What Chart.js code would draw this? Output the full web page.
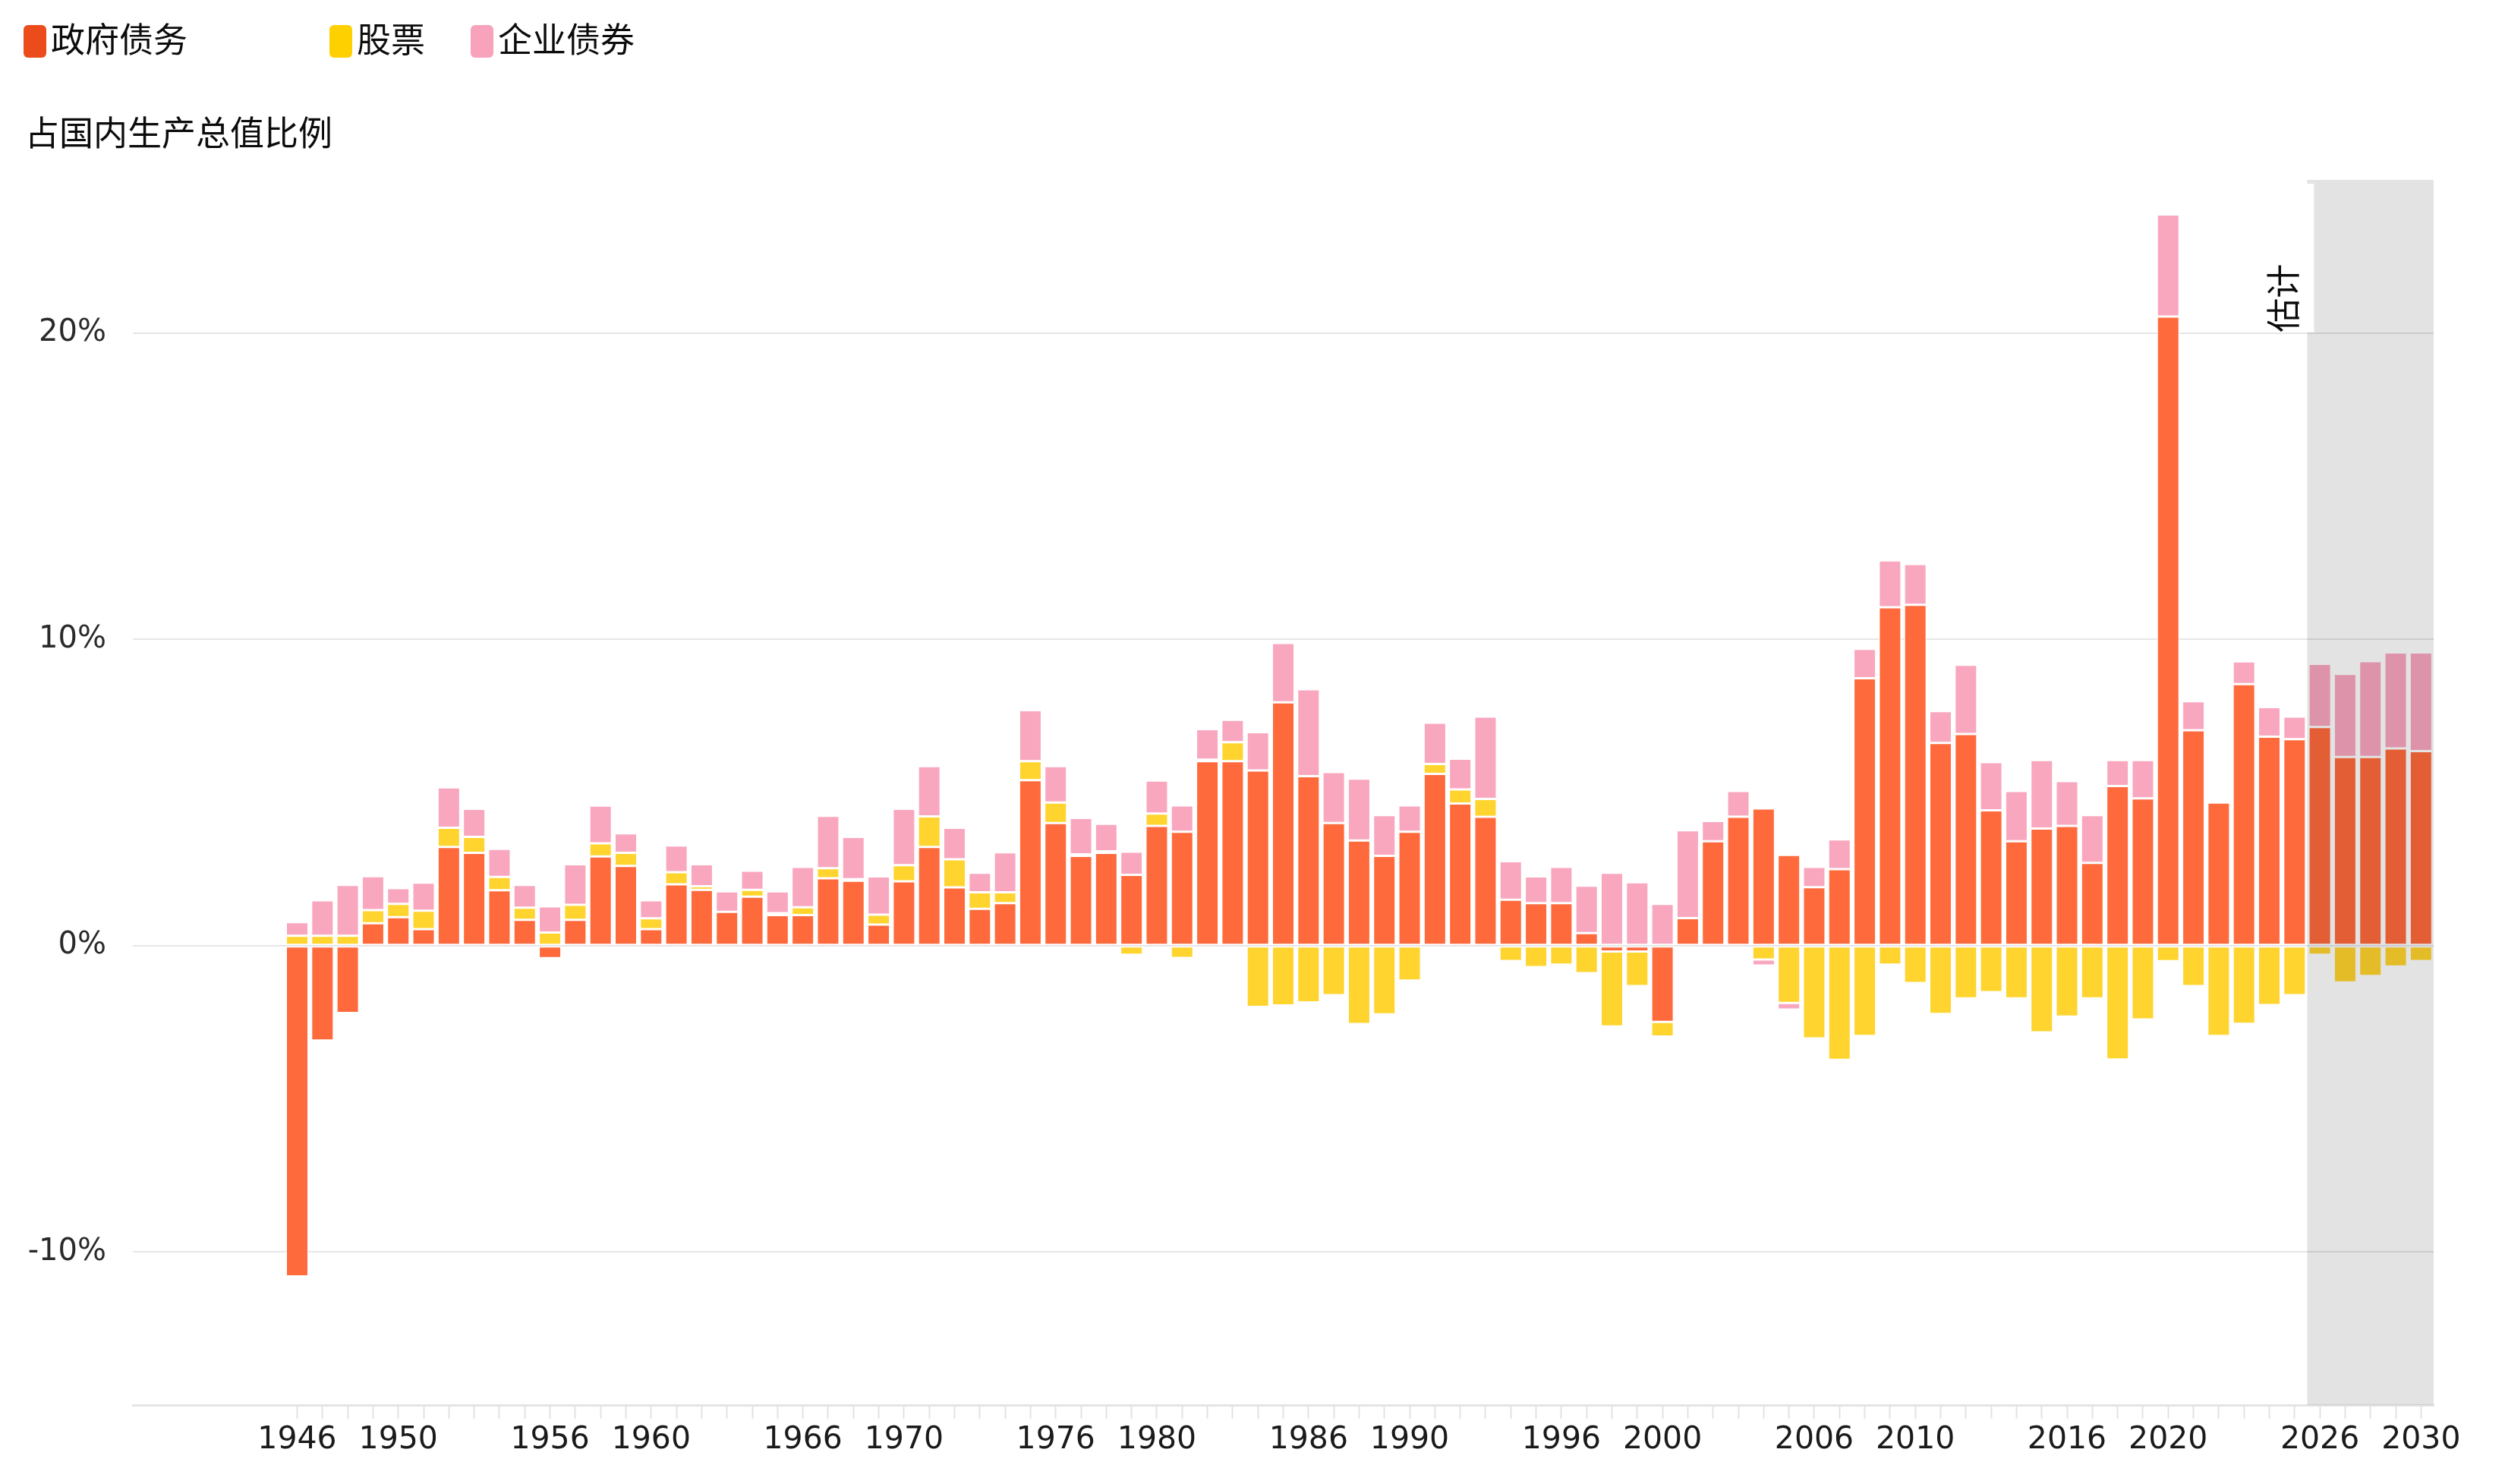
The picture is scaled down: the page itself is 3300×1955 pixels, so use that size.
<!DOCTYPE html>
<html lang="zh">
<head>
    <meta charset="UTF-8">
    <title>占国内生产总值比例</title>
    <script src="https://cdn.jsdelivr.net/npm/chart.js"></script>
    <style>
        body { margin: 0; background: #fff; }
        #wrap { position: relative; width: 3300px; height: 1955px; }
        #chart { position: absolute; left: 0; top: 0; }
        .cjk { font-family: "Noto Sans CJK SC", sans-serif; color: #0c0c0c; font-size: 45px; line-height: 45px; }
        .item { position: absolute; top: 27px; white-space: nowrap; }
        .swatch { position: absolute; top: 6px; width: 30px; height: 43px; border-radius: 6px; }
        .item span.txt { position: absolute; left: 36px; top: 0; }
        #sub { position: absolute; left: 33px; top: 150px; }
    </style>
</head>
<body>
<div id="wrap">
    <canvas id="chart"></canvas>
    <div id="legend" class="cjk"></div>
    <div id="sub" class="cjk">占国内生产总值比例</div>
</div>
<script>
// years shown on the axis; 1940-1945 are empty slots before the data starts
const leadYears = ['1940', '1941', '1942', '1943', '1944', '1945'];
const years = [
    '1946', '1947', '1948', '1949', '1950', '1951', '1952', '1953', '1954', '1955',
    '1956', '1957', '1958', '1959', '1960', '1961', '1962', '1963', '1964', '1965',
    '1966', '1967', '1968', '1969', '1970', '1971', '1972', '1973', '1974', '1975',
    '1976', '1977', '1978', '1979', '1980', '1981', '1982', '1983', '1984', '1985',
    '1986', '1987', '1988', '1989', '1990', '1991', '1992', '1993', '1994', '1995',
    '1996', '1997', '1998', '1999', '2000', '2001', '2002', '2003', '2004', '2005',
    '2006', '2007', '2008', '2009', '2010', '2011', '2012', '2013', '2014', '2015',
    '2016', '2017', '2018', '2019', '2020', '2021', '2022', '2023', '2024', '2025',
    '2026', '2027', '2028', '2029', '2030'
];
const tickYears = ['1946', '1950', '1956', '1960', '1966', '1970', '1976', '1980', '1986', '1990',
    '1996', '2000', '2006', '2010', '2016', '2020', '2026', '2030'];
const firstEstimate = '2026';

// % of GDP
const govDebt = [
    -10.8, -3.1, -2.2, 0.73, 0.93, 0.54, 3.22, 3.03, 1.81, 0.84,
    -0.41, 0.84, 2.91, 2.6, 0.54, 2.0, 1.82, 1.1, 1.6, 1.0,
    1.0, 2.2, 2.12, 0.69, 2.1, 3.22, 1.9, 1.2, 1.39, 5.4,
    4.0, 2.93, 3.03, 2.31, 3.91, 3.72, 6.02, 6.02, 5.72, 7.94,
    5.53, 4.0, 3.43, 2.93, 3.72, 5.61, 4.64, 4.21, 1.5, 1.39,
    1.39, 0.41, -0.19, -0.19, -2.49, 0.9, 3.41, 4.21, 4.48, 2.96,
    1.91, 2.5, 8.73, 11.05, 11.13, 6.62, 6.91, 4.42, 3.41, 3.82,
    3.91, 2.7, 5.21, 4.81, 20.54, 7.03, 4.67, 8.54, 6.82, 6.74,
    7.14, 6.16, 6.16, 6.44, 6.35
];
const stocks = [
    0.32, 0.32, 0.32, 0.43, 0.43, 0.6, 0.63, 0.52, 0.43, 0.4,
    0.43, 0.49, 0.43, 0.43, 0.35, 0.4, 0.12, -0.1, 0.22, 0.06,
    0.25, 0.33, 0.05, 0.32, 0.53, 1.0, 0.92, 0.54, 0.35, 0.62,
    0.67, 0.05, 0.05, -0.3, 0.4, -0.4, 0.05, 0.62, -2.0, -1.95,
    -1.85, -1.62, -2.56, -2.24, -1.14, 0.32, 0.46, 0.58, -0.5, -0.7,
    -0.62, -0.9, -2.45, -1.13, -0.48, -0.05, -0.05, 0, -0.45, -1.87,
    -3.03, -3.73, -2.95, -0.62, -1.22, -2.23, -1.72, -1.52, -1.72, -2.83,
    -2.32, -1.72, -3.72, -2.41, -0.51, -1.32, -2.95, -2.55, -1.94, -1.62,
    -0.3, -1.2, -0.99, -0.68, -0.5
];
const corpBonds = [
    0.45, 1.16, 1.66, 1.11, 0.52, 0.92, 1.32, 0.92, 0.92, 0.74,
    0.85, 1.33, 1.23, 0.64, 0.59, 0.87, 0.72, 0.67, 0.63, 0.71,
    1.32, 1.71, 1.38, 1.25, 1.84, 1.64, 1.03, 0.64, 1.31, 1.67,
    1.19, 1.19, 0.9, 0.76, 1.08, 0.86, 1.0, 0.73, 1.25, 1.94,
    2.84, 1.67, 2.02, 1.33, 0.86, 1.35, 1.0, 2.69, 1.26, 0.87,
    1.18, 1.55, 2.38, 2.07, 1.36, 2.87, 0.66, 0.84, -0.2, -0.22,
    0.66, 0.97, 0.96, 1.53, 1.33, 1.04, 2.26, 1.57, 1.64, 2.24,
    1.46, 1.56, 0.85, 1.25, 3.33, 0.95, 0, 0.74, 0.97, 0.74,
    2.06, 2.71, 3.13, 3.13, 3.22
];
const yTicks = [-10, 0, 10, 20];

const series = [
    { name: '政府债务', values: govDebt, bar: '#ff6a3c', key: '#ec4c1c' },
    { name: '股票', values: stocks, bar: '#ffd42e', key: '#ffd000' },
    { name: '企业债券', values: corpBonds, bar: '#f9a7bf', key: '#f8a2bb' }
];

// legend in html, spacing as in the original
const legendX = [31, 434, 620];
const legend = document.getElementById('legend');
series.forEach((s, i) => {
    const item = document.createElement('div');
    item.className = 'item';
    item.style.left = legendX[i] + 'px';
    item.innerHTML = '<div class="swatch" style="background:' + s.key + '"></div><span class="txt">' + s.name + '</span>';
    legend.appendChild(item);
});

const labels = leadYears.concat(years);
const pad = leadYears.map(() => null);

const estimateShade = {
    id: 'estimateShade',
    afterDatasetsDraw(chart) {
        const { ctx, chartArea, scales } = chart;
        const x = scales.x;
        const idx = labels.indexOf(firstEstimate);
        const half = (x.getPixelForValue(idx) - x.getPixelForValue(idx - 1)) / 2;
        const left = x.getPixelForValue(idx) - half;
        const y20 = scales.y.getPixelForValue(20);
        ctx.save();
        ctx.fillStyle = 'rgba(0,0,0,0.11)';
        ctx.fillRect(left, chartArea.top, chartArea.right - left, chartArea.bottom - chartArea.top);
        // white box behind the label
        ctx.fillStyle = '#fff';
        ctx.fillRect(left - 70, chartArea.top + 5, 79, y20 - chartArea.top - 6);
        ctx.translate(left - 32, y20 - 46);
        ctx.rotate(-Math.PI / 2);
        ctx.fillStyle = '#0c0c0c';
        ctx.font = '45px "Noto Sans CJK SC"';
        ctx.textAlign = 'center';
        ctx.textBaseline = 'middle';
        ctx.fillText('估计', 0, 0);
        ctx.restore();
    }
};

const ctx = document.getElementById('chart').getContext('2d');
new Chart(ctx, {
    type: 'bar',
    data: {
        labels: labels,
        datasets: series.map(s => ({
            label: s.name,
            data: pad.concat(s.values),
            backgroundColor: s.bar,
            borderColor: '#fff',
            borderWidth: 1.5,
            borderSkipped: false,
            barPercentage: 0.9,
            categoryPercentage: 1
        }))
    },
    options: {
        responsive: true,
        maintainAspectRatio: false,
        devicePixelRatio: 1,
        animation: false,
        layout: { padding: { top: 237, right: 94, left: 0, bottom: 0 } },
        plugins: {
            legend: { display: false },
            tooltip: { enabled: false }
        },
        scales: {
            x: {
                stacked: true,
                afterFit: scale => { scale.height = 104; },
                grid: {
                    offset: false,
                    drawOnChartArea: false,
                    drawTicks: true,
                    tickLength: 18,
                    tickWidth: 2,
                    tickColor: c => c.index < leadYears.length ? 'rgba(0,0,0,0)' : '#e2e2e2'
                },
                border: { display: true, color: '#e4e4e4', width: 3 },
                ticks: {
                    autoSkip: false,
                    maxRotation: 0,
                    padding: 4,
                    color: '#1a1a1a',
                    font: { family: 'DejaVu Sans', size: 41 },
                    callback: (v, i) => tickYears.includes(labels[i]) ? labels[i] : ''
                }
            },
            y: {
                stacked: true,
                min: -15,
                max: 25,
                afterFit: scale => { scale.width = 175; },
                afterBuildTicks: scale => { scale.ticks = yTicks.map(v => ({ value: v })); },
                grid: { color: '#e6e6e6', lineWidth: 2, drawTicks: false },
                border: { display: false },
                ticks: {
                    padding: 35,
                    color: '#2a2a2a',
                    font: { family: 'DejaVu Sans', size: 40 },
                    callback: v => v + '%'
                }
            }
        }
    },
    plugins: [estimateShade]
});
</script>
</body>
</html>
